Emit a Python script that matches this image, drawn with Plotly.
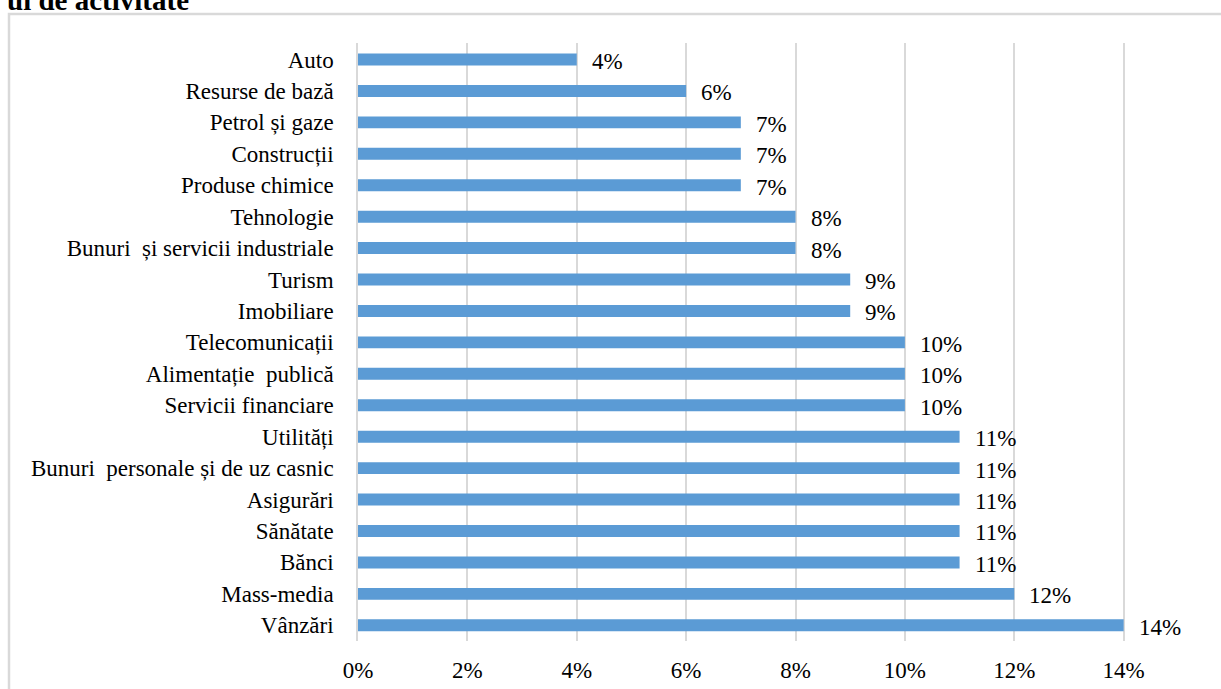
import plotly.graph_objects as go

# Sector shares, top to bottom
categories = [
    "Auto", "Resurse de bază", "Petrol și gaze", "Construcții", "Produse chimice",
    "Tehnologie", "Bunuri\u00a0 și servicii industriale", "Turism", "Imobiliare",
    "Telecomunicații", "Alimentație\u00a0 publică", "Servicii financiare", "Utilități",
    "Bunuri\u00a0 personale și de uz casnic", "Asigurări", "Sănătate", "Bănci",
    "Mass-media", "Vânzări",
]
values = [0.04, 0.06, 0.07, 0.07, 0.07, 0.08, 0.08, 0.09, 0.09,
          0.10, 0.10, 0.10, 0.11, 0.11, 0.11, 0.11, 0.11, 0.12, 0.14]
tick_vals = [0, 0.02, 0.04, 0.06, 0.08, 0.10, 0.12, 0.14]
tick_text = ["0%", "2%", "4%", "6%", "8%", "10%", "12%", "14%"]

FONT = "Liberation Serif"
BLUE = "#5B9BD5"
GRID = "#D9D9D9"
FS = 23

fig = go.Figure(go.Bar(
    x=values, y=categories, orientation="h",
    marker=dict(color=BLUE, line=dict(width=0)),
    width=0.38, hoverinfo="skip",
))

annotations = [
    dict(x=v, y=c, xref="x", yref="y", text=f"{round(v * 100)}%",
         showarrow=False, xanchor="left", yanchor="middle", xshift=13, yshift=-2,
         font=dict(family=FONT, size=FS, color="#000000"))
    for c, v in zip(categories, values)
]
# Section heading, partly above the page edge
annotations.append(dict(
    x=-0.409, y=1.042, xref="paper", yref="paper", text="<b>ul de activitate</b>",
    showarrow=False, xanchor="left", yanchor="bottom",
    font=dict(family=FONT, size=29, color="#000000"),
))

fig.update_layout(
    width=1221, height=689,
    margin=dict(l=358, r=0, t=43, b=48),
    paper_bgcolor="white", plot_bgcolor="white",
    showlegend=False, bargap=0.62,
    font=dict(family=FONT, size=FS, color="#000000"),
    annotations=annotations,
    shapes=[dict(type="rect", xref="paper", yref="paper",
                 x0=-0.4044, x1=1.2, y0=-0.3, y1=1.0485,
                 line=dict(color=GRID, width=2.5), layer="below")],
    xaxis=dict(
        range=[0, 0.1578], tickvals=tick_vals, ticktext=tick_text,
        showgrid=True, gridcolor=GRID, gridwidth=1.5, zeroline=False,
        showline=False, ticks="outside", ticklen=8, tickcolor="rgba(0,0,0,0)",
        tickfont=dict(family=FONT, size=FS, color="#000000"), fixedrange=True,
    ),
    yaxis=dict(
        categoryorder="array", categoryarray=categories, autorange="reversed",
        showgrid=False, zeroline=False, showline=True, linecolor=GRID, linewidth=1.5,
        ticks="outside", ticklen=18, tickcolor="rgba(0,0,0,0)",
        tickfont=dict(family=FONT, size=FS, color="#000000"), fixedrange=True,
    ),
)

fig.write_html("out.html", config={"displayModeBar": False})
